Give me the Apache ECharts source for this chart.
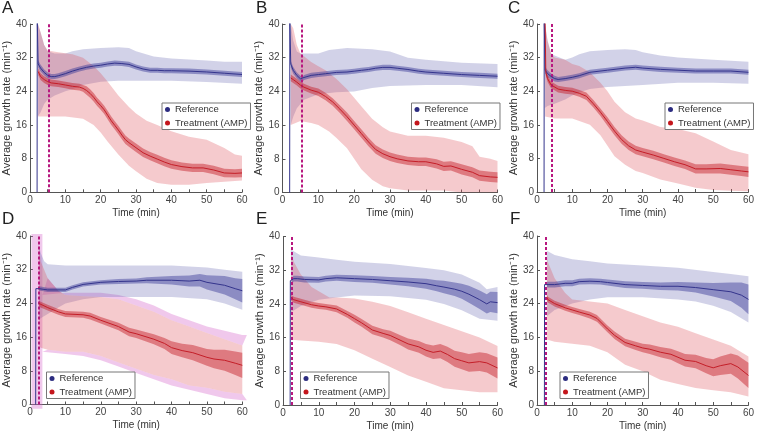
<!DOCTYPE html>
<html><head><meta charset="utf-8">
<script src="https://cdn.jsdelivr.net/npm/echarts@6/dist/echarts.min.js"></script>
<style>html,body{margin:0;padding:0;background:#fff}#c{width:757px;height:433px}</style>
</head><body><div id="c"></div>
<script>
// ---------- DATA ----------
const panelLetters = ['A','B','C','D','E','F'];
const treatStart = [5.2, 5.3, 4.1, 2.4, 2.5, 2.6];
const xTicks = [0,10,20,30,40,50,60];
const yTicks = [0,8,16,24,32,40];

// Panel A
const refMean_A = [[2.0,0],[2.05,41],[2.3,30.5],[3,29.5],[4,28.5],[5,27.8],[6,27.5],[7,27.5],[8,27.7],[10,28.2],[12,28.8],[14,29.3],[16,29.7],[18,30],[20,30.2],[22,30.5],[24,30.7],[26,30.6],[28,30.4],[30,29.8],[32,29.3],[34,29],[36,29],[38,28.9],[40,28.9],[45,28.8],[50,28.6],[55,28.3],[60,28]];
const refSem_A = [0,0,0.8,0.8,0.7,0.7,0.6,0.6,0.6,0.6,0.6,0.6,0.6,0.6,0.6,0.6,0.6,0.6,0.6,0.6,0.6,0.6,0.6,0.6,0.6,0.6,0.6,0.6,0.6];
const refSdHi_A = [[2.2,40],[3,38],[4,35],[5,33.5],[7,33],[10,33],[12,33.5],[15,34],[20,34.3],[25,34.5],[28,34.3],[30,33.5],[35,32.3],[40,31.8],[50,31.3],[55,31],[60,31]];
const refSdLo_A = [[2.2,18],[3,19],[4,21],[5,22],[7,23],[10,24],[12,24.5],[15,25.5],[20,26.3],[25,26.5],[30,26.5],[40,26.5],[50,26.2],[60,25.8]];
const amMean_A = [[2.3,28.7],[3,27.5],[4,26.8],[5,26.3],[6,26],[8,25.8],[10,25.5],[12,25.2],[14,25],[15,24.7],[16,24.2],[17,23.5],[18,22.6],[19,21.5],[20,20.6],[21,19.6],[22,18.3],[23,17],[24,15.9],[25,14.8],[26,13.6],[27,12.5],[28,11.8],[30,10.6],[32,9.4],[34,8.6],[36,7.9],[38,7.2],[40,6.6],[43,6.1],[46,5.8],[49,5.8],[52,5.3],[55,4.6],[58,4.5],[60,4.6]];
const amSem_A = [0.8,0.8,0.8,0.8,0.8,0.8,0.8,0.8,0.8,0.8,1,1,1,1,1,1,1,1,1,1,1,1,1,1,1,1,1,1,1,1,1,1,1,1,1,1];
const amSdHi_A = [[2.3,40],[3,38],[4,35],[5,33.7],[8,33.3],[12,32.8],[15,32],[18,30],[20,28.3],[22,26.3],[25,23],[28,20.3],[30,18.7],[33,17],[36,16],[40,14.5],[45,13.2],[50,12.5],[55,10.5],[58,9],[60,8.7]];
const amSdLo_A = [[2.3,18],[5,18],[10,18],[15,17.5],[18,16],[20,14.2],[22,12],[25,9],[28,6.3],[30,5],[33,3.2],[36,2.2],[40,1.8],[45,1.8],[50,2.2],[55,2.5],[60,2.8]];

// Panel B
const refMean_B = [[2.0,0],[2.05,41],[2.3,30.5],[3,29],[4,27.8],[5,27],[5.5,26.8],[6,27.3],[8,27.8],[10,28],[12,28.2],[15,28.5],[18,28.6],[20,28.8],[22,29],[24,29.2],[26,29.5],[28,29.7],[30,29.7],[32,29.5],[35,29.2],[38,28.8],[40,28.6],[45,28.3],[50,28],[55,27.8],[60,27.6]];
const refSem_B = [0,0,0.8,0.8,0.7,0.7,0.6,0.6,0.6,0.6,0.6,0.6,0.6,0.6,0.6,0.6,0.6,0.6,0.6,0.6,0.6,0.6,0.6,0.6,0.6,0.6,0.6];
const refSdHi_B = [[2.3,40],[3,36],[4,33.5],[5,33],[10,33],[13,33.8],[18,34.3],[25,34],[30,33.5],[35,32],[40,31.5],[50,30.8],[60,30.5]];
const refSdLo_B = [[2.3,16],[3,18],[4,20],[6,22],[10,23.3],[15,23.8],[20,24],[25,24.8],[30,25.3],[40,25.5],[50,25.5],[60,25]];
const amMean_B = [[2.3,27.2],[3,26.8],[4,26.2],[5,25.5],[6,25],[8,24.3],[10,23.8],[12,22.8],[14,21.5],[16,19.8],[18,18],[20,16],[22,14],[24,12],[26,10.2],[28,9.2],[30,8.5],[32,8],[35,7.5],[38,7.3],[40,7.3],[43,6.8],[45,6.2],[47,6.3],[50,5.5],[53,4.8],[55,4],[58,3.7],[60,3.6]];
const amSem_B = [0.8,0.8,0.8,0.8,0.8,0.8,0.9,0.9,0.9,0.9,1,1,1,1,1,1,1,1,1,1,1,1.1,1.1,1.1,1.2,1.2,1.2,1.2,1.2];
const amSdHi_B = [[2.3,40],[3,39],[4,35],[5,33],[8,31],[10,30],[12,29],[15,27],[18,24.5],[20,22.5],[22,20.5],[25,17.5],[28,15.5],[30,14.5],[35,13.5],[40,13.5],[45,13],[50,12],[53,11],[55,8.5],[58,8],[60,7.5]];
const amSdLo_B = [[2.3,16],[5,17],[8,16.5],[10,16],[13,14.5],[15,13],[18,10.5],[20,8],[22,5.5],[25,3],[28,1.5],[30,1],[35,0.5],[40,0.5],[45,0.5],[50,0],[60,0]];

// Panel C
const refMean_C = [[2.0,0],[2.05,41],[2.3,29],[3,28.2],[4,27.5],[5,27],[6,26.8],[8,27],[10,27.3],[12,27.7],[15,28.5],[20,29],[25,29.5],[28,29.7],[30,29.5],[35,29.2],[40,29],[45,28.8],[50,28.8],[55,28.8],[60,28.5]];
const refSem_C = [0,0,0.8,0.8,0.7,0.7,0.6,0.6,0.6,0.6,0.6,0.6,0.6,0.6,0.6,0.6,0.6,0.6,0.6,0.6,0.6];
const refSdHi_C = [[2.2,40],[3,36],[4,33],[5,32.5],[8,31.5],[10,32],[12,32.8],[15,33.5],[20,33.8],[25,34],[28,33.8],[30,33.3],[35,32.5],[40,32],[50,31.5],[60,31]];
const refSdLo_C = [[2.2,20],[3,20.5],[5,21],[8,22],[10,23],[13,24],[15,24.5],[20,25],[30,25.5],[40,26],[50,26],[60,25.8]];
const amMean_C = [[2.3,41],[2.5,28.5],[3,27],[4,25.5],[6,24.5],[8,24.2],[10,24],[12,23.5],[14,22.8],[16,21],[18,19],[20,16.8],[22,14.5],[24,12.5],[26,11],[28,10],[30,9.5],[33,8.8],[36,8],[39,7.2],[42,6.5],[45,5.5],[48,5.5],[52,5.6],[55,5.3],[58,5],[60,4.8]];
const amSem_C = [0,0.8,0.8,0.8,0.8,0.8,0.8,0.8,0.9,0.9,0.9,1,1,1,1,1,1,1,1,1,1,1.1,1.1,1.2,1.2,1.2,1.2];
const amSdHi_C = [[2.3,40],[3,36],[4,33],[5,32],[8,31.5],[10,30.5],[12,30],[15,28.5],[18,26],[20,24],[22,21.5],[25,19],[28,17.5],[30,17],[35,15.5],[40,15],[45,14],[50,12],[55,10],[60,9]];
const amSdLo_C = [[2.3,18],[5,17.5],[10,17.5],[15,16],[18,13.5],[20,11],[22,8.5],[25,6.5],[28,5],[30,4.5],[35,3],[40,2],[45,1],[50,0.5],[55,0.3],[60,0.2]];

// Panel D
const refMean_D = [[1.6,0],[1.65,27.5],[2.5,27.5],[3,27.5],[5,27.2],[10,27.2],[12,27.8],[15,28.5],[20,29],[25,29.2],[30,29.3],[33,29.5],[40,29.5],[45,29.3],[48,29.5],[50,29],[55,28.3],[58,27.5],[60,27]];
const refSem_D = [0,0,0.5,0.5,0.5,0.5,0.5,0.5,0.5,0.6,0.6,0.7,1,1.3,1.5,1.7,2.2,2.5,2.8];
const refSdHi_D = [[2.5,38],[3,36],[4,34],[5,33.3],[10,33],[20,33],[30,33],[40,33],[50,32.5],[55,32],[60,31.5]];
const refSdLo_D = [[2.5,20],[3,20.5],[5,21.5],[8,23],[10,24],[15,25],[20,25.5],[30,25.5],[40,25.5],[50,25],[55,24],[60,22.5]];
const amMean_D = [[2.5,24],[3,23.7],[5,23],[8,22],[10,21.5],[15,21.3],[17,21],[20,20],[25,18.5],[28,17.2],[30,16.8],[35,15.5],[38,14.5],[40,13.5],[43,12.8],[46,12.3],[50,11.2],[52,10.8],[55,10.5],[58,9.8],[60,9.3]];
const amSem_D = [0.7,0.7,0.7,0.7,0.7,0.7,0.8,0.8,0.9,1,1,1.2,1.3,1.5,1.6,1.8,2,2.2,2.5,2.8,3];
const amSdHi_D = [[2.5,38],[3,34],[5,30],[8,27],[10,26],[15,25.7],[20,25.5],[25,25],[30,23.5],[35,22],[40,20],[45,18.5],[50,17],[55,15.5],[60,14]];
const amSdLo_D = [[2.5,14],[3,13.5],[5,13],[10,12.5],[15,12.5],[20,11.5],[25,10],[30,8.5],[35,7],[40,6],[45,4.5],[50,4],[55,3],[60,2.5]];
// outer (magenta) envelope of panel D, plus the shaded start block
const extraHi_D = [[3.5,26],[10,26.5],[20,26.5],[25,26],[30,25],[35,23.5],[40,21.5],[45,20],[50,18.5],[55,17.5],[60,16.5],[61.3,16.5]];
const extraLo_D = [[3.5,12.5],[10,12],[15,11.5],[20,10.5],[25,9],[30,7.5],[35,6],[40,4.5],[45,3.5],[50,2.5],[55,1.5],[60,1],[61.3,1]];
const blockHi_D = [[0.4,40.5],[3.5,40.5]];
const blockLo_D = [[0.4,-1],[3.5,-1]];

// Panel E
const refMean_E = [[2.0,0],[2.05,29.5],[2.5,29.5],[3,30],[4,30],[6,29.8],[10,29.7],[12,30],[15,30.2],[20,30],[25,29.8],[30,29.5],[35,29.2],[40,28.8],[43,28.3],[45,28],[48,27.5],[50,27],[52,26.3],[55,25],[57,24],[58,24.5],[60,24.3]];
const refSem_E = [0,0,0.7,0.7,0.7,0.7,0.7,0.7,0.7,0.8,0.8,0.9,1,1.2,1.3,1.5,1.6,1.8,2,2.2,2.3,2.4,2.5];
const refSdHi_E = [[2.2,37],[3,36.5],[5,35.5],[10,35],[15,34.5],[20,34],[30,33.5],[35,33],[40,32.5],[45,32],[50,31],[55,29],[57,27.5],[60,28]];
const refSdLo_E = [[2.2,22],[5,23.5],[10,25],[15,25.5],[20,26],[30,25.8],[40,25],[45,24],[50,22.5],[55,20.5],[60,20]];
const amMean_E = [[2.3,25.5],[3,25],[5,24.5],[8,23.8],[10,23.5],[12,23.3],[15,22.8],[18,21.5],[20,20.5],[22,19.5],[25,17.8],[28,17],[30,16.5],[33,15.3],[35,14.5],[38,13.8],[40,13],[42,12.5],[44,12.8],[46,12],[48,11],[50,10.5],[52,10],[55,10.3],[57,10],[60,8.8]];
const amSem_E = [0.7,0.7,0.7,0.7,0.7,0.7,0.8,0.8,0.9,0.9,1,1,1.1,1.2,1.3,1.4,1.5,1.6,1.7,1.8,1.9,2,2.1,2.2,2.3,2.5];
const amSdHi_E = [[2.3,36],[3,34],[5,31],[8,28],[10,27],[13,25.5],[15,25.5],[20,25.3],[25,24.5],[30,23.5],[35,22],[40,20.5],[45,19],[50,17.5],[55,16],[60,14]];
const amSdLo_E = [[2.3,15.5],[5,15.3],[10,15],[15,14.5],[20,13],[25,11],[30,9],[35,7],[40,5.5],[45,4],[50,3.5],[55,3],[60,3]];

// Panel F
const refMean_F = [[2.1,0],[2.15,28.5],[2.8,28.5],[5,28.5],[8,28.8],[10,28.8],[12,29.2],[15,29.3],[18,29.2],[20,29],[25,28.5],[30,28.3],[35,28.1],[40,28.1],[45,27.8],[50,27.3],[55,26.8],[58,26],[60,25]];
const refSem_F = [0,0,0.7,0.7,0.7,0.7,0.7,0.7,0.7,0.7,0.8,0.8,0.9,1,1.2,1.6,2.2,3,3.5];
const refSdHi_F = [[2.8,36.5],[5,35.5],[10,34.5],[15,34],[20,33.5],[30,33],[40,32.5],[50,31.5],[55,31],[60,30.5]];
const refSdLo_F = [[2.8,21],[5,22.5],[10,24],[15,25],[20,25.5],[30,25.5],[40,25],[45,24.5],[50,23.5],[55,22],[60,19.5]];
const amMean_F = [[2.8,25.5],[3,25],[5,24],[8,23],[10,22.5],[12,22],[15,21.3],[17,20.5],[20,18],[22,16.5],[25,14.8],[28,14],[30,13.5],[32,13.2],[35,12.5],[38,12],[40,11.3],[42,10.6],[45,10.3],[48,9.3],[50,8.8],[52,9.3],[55,9.8],[57,9],[60,7]];
const amSem_F = [0.7,0.7,0.7,0.7,0.7,0.7,0.8,0.8,0.8,0.9,0.9,1,1,1.1,1.2,1.3,1.4,1.5,1.6,1.8,2,2.2,2.4,2.7,3];
const amSdHi_F = [[2.8,36],[3,34],[5,30],[8,26.5],[10,25],[15,24.5],[20,24],[25,22.5],[30,21],[35,19.5],[40,18.5],[45,17],[50,15.5],[55,14],[60,11.5]];
const amSdLo_F = [[2.8,15.5],[5,15],[10,14.5],[15,14],[20,12.5],[25,9.5],[30,8],[35,6],[40,5],[45,4],[50,3.5],[55,3],[60,2]];

// ---------- LAYOUT / STYLE ----------
const grids = [
  {left:25.6, top:24, width:216.4, height:168.3},
  {left:282.5, top:24, width:215, height:168.5},
  {left:537, top:24, width:215, height:168},
  {left:27, top:236, width:215.3, height:168.5},
  {left:283, top:236.5, width:214.5, height:168.5},
  {left:537, top:236, width:215, height:169}
];
const letterPos = [[2,0],[256,0],[508,0],[2,211],[256,211],[510,211]];
const legendPos = [[162,103],[411.5,103],[665,103],[46.5,372],[300.5,372],[560,372]];
const C = {
  refLine:'#34348c', amLine:'#c41e28',
  refSd:'rgba(105,105,180,0.30)', amSd:'rgba(222,80,90,0.30)',
  refSem:'rgba(55,55,150,0.45)', amSem:'rgba(195,25,35,0.45)',
  extra:'rgba(215,110,205,0.38)', dash:'#b8187f', axis:'#555', text:'#444'
};
const FONT = 'Arial, "Liberation Sans", sans-serif';

const D = {
  A:{rm:refMean_A,rs:refSem_A,rh:refSdHi_A,rl:refSdLo_A,am:amMean_A,as:amSem_A,ah:amSdHi_A,al:amSdLo_A},
  B:{rm:refMean_B,rs:refSem_B,rh:refSdHi_B,rl:refSdLo_B,am:amMean_B,as:amSem_B,ah:amSdHi_B,al:amSdLo_B},
  C:{rm:refMean_C,rs:refSem_C,rh:refSdHi_C,rl:refSdLo_C,am:amMean_C,as:amSem_C,ah:amSdHi_C,al:amSdLo_C},
  D:{rm:refMean_D,rs:refSem_D,rh:refSdHi_D,rl:refSdLo_D,am:amMean_D,as:amSem_D,ah:amSdHi_D,al:amSdLo_D,xh:extraHi_D,xl:extraLo_D,bh:blockHi_D,bl:blockLo_D},
  E:{rm:refMean_E,rs:refSem_E,rh:refSdHi_E,rl:refSdLo_E,am:amMean_E,as:amSem_E,ah:amSdHi_E,al:amSdLo_E},
  F:{rm:refMean_F,rs:refSem_F,rh:refSdHi_F,rl:refSdLo_F,am:amMean_F,as:amSem_F,ah:amSdHi_F,al:amSdLo_F}
};

function semBand(mean, sem, sign){
  return mean.map((p,k)=>[p[0], p[1] + sign*(sem[k] !== undefined ? sem[k] : sem[sem.length-1])]);
}
function band(i, hi, lo, color, z, clip){
  return {
    type:'custom', name:'band', xAxisIndex:i, yAxisIndex:i, z:z, silent:true,
    clip: clip !== false, animation:false,
    data:[[Math.max(0, hi[0][0]), Math.min(40, Math.max(0, hi[0][1]))]],
    renderItem:function(params, api){
      const pts = hi.map(p=>api.coord(p)).concat(lo.slice().reverse().map(p=>api.coord(p)));
      return {type:'polygon', shape:{points:pts}, style:{fill:color, stroke:null}};
    }
  };
}

const series = [];
panelLetters.forEach((L,i)=>{
  const d = D[L];
  if (d.xh) {
    // outer envelope drawn as two strips outside the treatment band, plus start block
    series.push(band(i, d.xh, d.ah.filter(p=>p[0]>=3.5), C.extra, 1, false));
    series.push(band(i, d.al.filter(p=>p[0]>=3.5), d.xl, C.extra, 1, false));
    series.push(band(i, d.bh, d.bl, C.extra, 1, false));
  }
  series.push(band(i, d.rh, d.rl, C.refSd, 2));
  series.push(band(i, d.ah, d.al, C.amSd, 2));
  series.push(band(i, semBand(d.rm.slice(2), d.rs.slice(2), 1), semBand(d.rm.slice(2), d.rs.slice(2), -1), C.refSem, 3));
  const aStart = d.as[0] === 0 ? 1 : 0;
  series.push(band(i, semBand(d.am.slice(aStart), d.as.slice(aStart), 1), semBand(d.am.slice(aStart), d.as.slice(aStart), -1), C.amSem, 3));
  series.push({type:'line', name:'Reference', xAxisIndex:i, yAxisIndex:i, data:d.rm, showSymbol:false, z:5,
    lineStyle:{color:C.refLine, width:1}, itemStyle:{color:C.refLine}, animation:false, silent:true});
  series.push({type:'line', name:'Treatment (AMP)', xAxisIndex:i, yAxisIndex:i, data:d.am, showSymbol:false, z:5,
    lineStyle:{color:C.amLine, width:1}, itemStyle:{color:C.amLine}, animation:false, silent:true,
    markLine:{silent:true, symbol:['none','none'], label:{show:false}, animation:false,
      lineStyle:{color:C.dash, type:[3,2], width:2}, data:[{xAxis:treatStart[i]}]}});
});

const option = {
  backgroundColor:'#fff',
  animation:false,
  textStyle:{fontFamily:FONT},
  title: panelLetters.map((L,i)=>({text:L, left:letterPos[i][0], top:letterPos[i][1], padding:0,
    textStyle:{fontSize:17, fontWeight:'normal', color:'#222', fontFamily:FONT}})),
  grid: grids.map(g=>Object.assign({containLabel:false}, g)),
  legend: legendPos.map(p=>({
    left:p[0], top:p[1], orient:'vertical', icon:'circle', itemWidth:5, itemHeight:5, itemGap:2.5,
    padding:[1,3,1,3], borderColor:'#777', borderWidth:1, backgroundColor:'#fff', selectedMode:false,
    textStyle:{fontSize:9.5, color:'#333', fontFamily:FONT, lineHeight:11},
    data:[{name:'Reference', itemStyle:{color:'#2c2c80'}},{name:'Treatment (AMP)', itemStyle:{color:'#c4161c'}}]
  })),
  xAxis: grids.map((g,i)=>({type:'value', gridIndex:i, min:xTicks[0], max:xTicks[xTicks.length-1], interval:xTicks[1]-xTicks[0],
    axisLine:{show:true, onZero:false, lineStyle:{color:C.axis, width:1}},
    axisTick:{show:true, inside:true, length:3, lineStyle:{color:C.axis}},
    minorTick:{show:true, splitNumber:2, length:3, lineStyle:{color:C.axis}},
    splitLine:{show:false},
    axisLabel:{fontSize:10, color:C.text, margin:3, fontFamily:FONT},
    name:'Time (min)', nameLocation:'middle', nameGap:16,
    nameTextStyle:{fontSize:10, color:'#333', fontFamily:FONT}})),
  yAxis: grids.map((g,i)=>({type:'value', gridIndex:i, min:yTicks[0], max:yTicks[yTicks.length-1], interval:yTicks[1]-yTicks[0],
    axisLine:{show:true, onZero:false, lineStyle:{color:C.axis, width:1}},
    axisTick:{show:true, inside:true, length:3, lineStyle:{color:C.axis}},
    splitLine:{show:false},
    axisLabel:{fontSize:10, color:C.text, margin:3, fontFamily:FONT},
    name:'Average growth rate (min\u207B\u00B9)', nameLocation:'middle', nameGap:14,
    nameTextStyle:{fontSize:11, color:'#333', fontFamily:FONT}})),
  series: series
};
const chart = echarts.init(document.getElementById('c'), null, {renderer:'canvas'});
chart.setOption(option);
</script>
</body></html>
